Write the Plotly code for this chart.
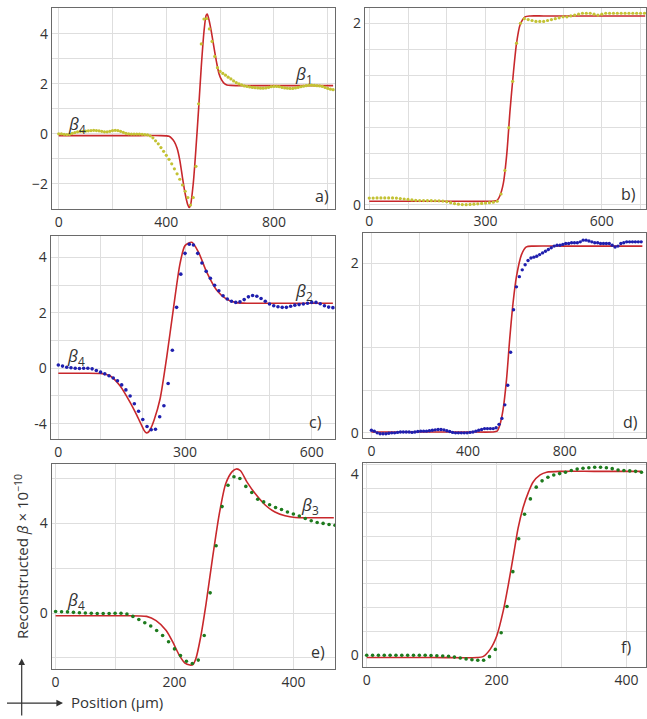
import plotly.graph_objects as go

W, H = 647, 719

# ---------------- data ----------------
# Panel a (yellow dots + red fit)
a_dot_x0, a_dot_step = 0, 10
a_dot_y = [0.00, 0.00, -0.02, -0.03, -0.02, 0.02, 0.05, 0.08, 0.10, 0.10,
           0.11, 0.12, 0.13, 0.14, 0.13, 0.12, 0.10, 0.08, 0.08, 0.10,
           0.13, 0.14, 0.13, 0.10, 0.06, 0.02, 0.00, -0.01, -0.01, -0.01,
           -0.01, -0.02, -0.03, -0.04, -0.08, -0.16, -0.28, -0.40, -0.55, -0.70,
           -0.86, -1.02, -1.20, -1.40, -1.60, -1.82, -2.05, -2.30, -2.55, -2.85,
           -2.55, -1.30, 1.20, 3.60, 4.60, 4.62, 4.20, 3.70, 3.10, 2.65,
           2.50, 2.42, 2.35, 2.27, 2.20, 2.12, 2.05, 2.00, 1.96, 1.92,
           1.90, 1.88, 1.86, 1.85, 1.84, 1.83, 1.83, 1.84, 1.86, 1.89,
           1.90, 1.90, 1.89, 1.86, 1.84, 1.83, 1.82, 1.82, 1.84, 1.86,
           1.89, 1.91, 1.93, 1.95, 1.95, 1.94, 1.93, 1.92, 1.90, 1.86,
           1.82, 1.79, 1.77]
a_fit_x = [0, 100, 200, 300, 380, 400, 410, 420, 430, 440, 450, 460, 470, 480, 485, 490,
           500, 510, 520, 530, 540, 548, 552, 560, 568, 578, 587, 596, 606, 615, 625, 640,
           700, 800, 900, 1020]
a_fit_y = [-0.07, -0.07, -0.07, -0.07, -0.07, -0.08, -0.10, -0.18, -0.32, -0.58, -1.05, -1.75,
           -2.40, -2.85, -2.95, -2.85, -2.00, -0.60, 1.00, 2.70, 4.10, 4.75, 4.80, 4.50, 4.05,
           3.40, 2.85, 2.40, 2.15, 2.02, 1.96, 1.94, 1.93, 1.93, 1.93, 1.93]

# Panel b
b_dot_x0, b_dot_step = 0, 10
b_dot_y = [0.075, 0.075, 0.077, 0.077, 0.077, 0.077, 0.077, 0.075, 0.070, 0.065,
           0.060, 0.055, 0.050, 0.048, 0.048, 0.047, 0.047, 0.046, 0.045, 0.042,
           0.035, 0.025, 0.015, 0.008, 0.004, 0.003, 0.005, 0.008, 0.012, 0.016,
           0.020, 0.025, 0.030, 0.040, 0.12, 0.38, 0.85, 1.36, 1.78, 2.00,
           2.05, 2.04, 2.03, 2.02, 2.02, 2.02, 2.03, 2.04, 2.05, 2.06,
           2.07, 2.07, 2.08, 2.09, 2.10, 2.11, 2.11, 2.11, 2.10, 2.09,
           2.10, 2.11, 2.11, 2.11, 2.11, 2.11, 2.11, 2.11, 2.11, 2.11,
           2.11, 2.11]
b_fit_x = [0, 100, 200, 300, 330, 337, 346, 355, 363, 372, 380, 389, 402, 415, 450, 550, 650, 712]
b_fit_y = [0.04, 0.04, 0.04, 0.04, 0.05, 0.10, 0.24, 0.57, 1.03, 1.46, 1.78, 1.98, 2.07, 2.08,
           2.08, 2.08, 2.08, 2.08]

# Panel c
c_dot_x0, c_dot_step = 0, 10
c_dot_y = [0.12, 0.08, 0.04, 0.02, 0.00, -0.01, 0.00, 0.00, -0.02, -0.08,
           -0.14, -0.20, -0.27, -0.35, -0.45, -0.60, -0.78, -1.00, -1.28, -1.55,
           -1.85, -2.10, -2.22, -2.20, -1.75, -1.35, -0.55, 0.65, 2.20, 3.40,
           4.15, 4.48, 4.45, 4.15, 3.80, 3.50, 3.25, 3.00, 2.80, 2.62,
           2.50, 2.42, 2.38, 2.40, 2.48, 2.58, 2.63, 2.60, 2.52, 2.42,
           2.32, 2.26, 2.22, 2.20, 2.20, 2.24, 2.28, 2.30, 2.32, 2.35,
           2.38, 2.38, 2.33, 2.26, 2.21, 2.19]
c_fit_x = [0, 50, 100, 122, 146, 170, 186, 196, 203, 208, 213, 219, 227, 241, 257, 272, 288,
           300, 316, 332, 351, 375, 399, 422, 450, 500, 600, 650]
c_fit_y = [-0.18, -0.18, -0.19, -0.27, -0.63, -1.23, -1.70, -2.02, -2.24, -2.33, -2.31, -2.17,
           -1.86, -1.10, 0.44, 2.10, 3.77, 4.43, 4.55, 4.19, 3.48, 2.82, 2.49, 2.37, 2.35, 2.35,
           2.35, 2.35]
c_tick_vals = [-2, 0, 2, 4]
c_tick_text = ["-4", "0", "2", "4"]

# Panel d
d_dot_x0, d_dot_step = 0, 12
d_dot_y = [0.03, 0.02, 0.00, -0.01, -0.01, -0.01, -0.005, 0.00, 0.00, 0.005,
           0.01, 0.01, 0.01, 0.01, 0.005, 0.01, 0.015, 0.02, 0.02, 0.02,
           0.025, 0.03, 0.035, 0.04, 0.04, 0.035, 0.025, 0.015, 0.005, 0.00,
           0.00, 0.00, 0.00, 0.00, 0.005, 0.01, 0.02, 0.03, 0.04, 0.05,
           0.05, 0.05, 0.05, 0.06, 0.10, 0.17, 0.33, 0.56, 0.95, 1.45,
           1.72, 1.84, 1.92, 1.98, 2.03, 2.06, 2.07, 2.08, 2.10, 2.12,
           2.14, 2.16, 2.18, 2.20, 2.21, 2.21, 2.22, 2.23, 2.23, 2.24,
           2.24, 2.24, 2.25, 2.27, 2.27, 2.26, 2.25, 2.24, 2.24, 2.23,
           2.23, 2.23, 2.23, 2.21, 2.19, 2.20, 2.23, 2.24, 2.25, 2.25,
           2.25, 2.25, 2.25, 2.25]
d_fit_x = [0, 200, 400, 500, 520, 531, 545, 559, 572, 586, 600, 621, 641, 669, 800, 1000, 1121]
d_fit_y = [0.01, 0.01, 0.01, 0.01, 0.02, 0.09, 0.28, 0.63, 1.10, 1.53, 1.84, 2.10, 2.19, 2.20,
           2.20, 2.20, 2.20]

# Panel e
e_dot_x0, e_dot_step = 0, 10
e_dot_y = [0.07, 0.06, 0.05, 0.03, 0.01, 0.00, -0.01, -0.02, -0.02, -0.02,
           -0.01, -0.01, -0.04, -0.15, -0.29, -0.43, -0.58, -0.78, -1.00, -1.28,
           -1.60, -1.90, -2.15, -2.25, -2.10, -1.00, 0.90, 3.00, 4.75, 5.70,
           6.08, 6.00, 5.65, 5.38, 5.08, 4.96, 4.83, 4.71, 4.62, 4.51,
           4.42, 4.33, 4.22, 4.12, 4.04, 4.00, 3.95, 3.92]
e_fit_x = [0, 100, 153, 169, 186, 197, 208, 217, 226, 231, 236, 244, 253, 264, 275, 286, 297,
           304, 311, 322, 336, 353, 369, 386, 403, 430, 468]
e_fit_y = [-0.12, -0.12, -0.15, -0.34, -0.78, -1.29, -1.88, -2.22, -2.32, -2.30, -2.03, -1.07,
           0.40, 2.46, 4.37, 5.76, 6.31, 6.43, 6.35, 5.84, 5.32, 4.81, 4.51, 4.34, 4.26, 4.25,
           4.25]

# Panel f
f_dot_x0, f_dot_step = 0, 9
f_dot_y = [0.00, 0.00, 0.00, 0.00, 0.00, 0.00, 0.00, 0.00, 0.00, 0.00,
           0.00, -0.005, -0.01, -0.015, -0.02, -0.04, -0.06, -0.08, -0.10, -0.11,
           -0.11, -0.03, 0.13, 0.50, 1.08, 1.85, 2.58, 3.12, 3.46, 3.72,
           3.86, 3.94, 3.99, 4.02, 4.05, 4.09, 4.12, 4.14, 4.15, 4.16,
           4.16, 4.15, 4.13, 4.10, 4.09, 4.08, 4.07, 4.05]
f_fit_x = [0, 100, 170, 179, 190, 200, 210, 218, 226, 233, 241, 249, 256, 267, 277, 300, 350, 423]
f_fit_y = [-0.05, -0.05, -0.05, -0.03, 0.13, 0.42, 0.97, 1.56, 2.22, 2.81, 3.28, 3.61, 3.83,
           3.99, 4.05, 4.07, 4.07, 4.07]

panel_letters = ["a)", "b)", "c)", "d)", "e)", "f)"]
y_title = "Reconstructed <i>β</i> × 10<sup>−10</sup>"
x_title = "Position (μm)"

# ---------------- styling / layout ----------------
RED = "#c8282c"
YEL = "#c3c234"
BLU = "#1f1fae"
GRN = "#1d7a1d"
GRID = "#dedede"
FRAME = "#6a6a6a"
TXT = "#333333"
FONT = "Open Sans"

# panel boxes in pixels: (left, top, right, bottom)
boxes = [(52, 8.3, 335, 210.7), (365, 8.3, 646, 210),
         (50.7, 237.3, 335, 441.7), (362.7, 235, 646, 441),
         (51.7, 467.7, 335, 673.3), (362.7, 466, 646, 671.7)]

xr = [[-25, 1027], [-11, 714], [-18, 655], [-36, 1136], [-6.6, 470], [-6.2, 430]]
yr = [[-3.02, 5.03], [-0.04, 2.165], [-2.54, 4.79], [-0.06, 2.35], [-2.48, 6.63], [-0.26, 4.26]]
x_major = [400, 300, 300, 400, 200, 200]
x_minor = [200, 100, 100, 200, 100, 100]
y_major = [2, 2, 2, 2, 4, 4]
y_minor = [1, 2 / 7, 1, 0.5, 2, 0.527]

dots = [(a_dot_x0, a_dot_step, a_dot_y, YEL, 3.2),
        (b_dot_x0, b_dot_step, b_dot_y, YEL, 3.2),
        (c_dot_x0, c_dot_step, c_dot_y, BLU, 3.6),
        (d_dot_x0, d_dot_step, d_dot_y, BLU, 3.4),
        (e_dot_x0, e_dot_step, e_dot_y, GRN, 3.6),
        (f_dot_x0, f_dot_step, f_dot_y, GRN, 3.6)]
fits = [(a_fit_x, a_fit_y), (b_fit_x, b_fit_y), (c_fit_x, c_fit_y),
        (d_fit_x, d_fit_y), (e_fit_x, e_fit_y), (f_fit_x, f_fit_y)]

fig = go.Figure()
layout = dict(width=W, height=H, margin=dict(l=0, r=0, t=0, b=0), autosize=False,
              paper_bgcolor="white", plot_bgcolor="white", showlegend=False,
              font=dict(family=FONT, color=TXT, size=13))

for i in range(6):
    k = "" if i == 0 else str(i + 1)
    xa, ya = "x" + k, "y" + k
    L, T, R, B = boxes[i]
    fx, fy = fits[i]
    fig.add_trace(go.Scatter(x=fx, y=fy, mode="lines", xaxis=xa, yaxis=ya,
                             line=dict(color=RED, width=1.6, shape="spline", smoothing=0.7),
                             hoverinfo="skip"))
    x0, st, yy, col, ms = dots[i]
    xs = [x0 + st * j for j in range(len(yy))]
    fig.add_trace(go.Scatter(x=xs, y=yy, mode="markers", xaxis=xa, yaxis=ya,
                             marker=dict(color=col, size=ms, line=dict(width=0)),
                             hoverinfo="skip"))
    xax = dict(domain=[L / W, R / W], anchor=ya, range=xr[i], tick0=0, dtick=x_major[i],
               showgrid=True, gridcolor=GRID, gridwidth=1, zeroline=False,
               showline=True, linecolor=FRAME, linewidth=1.3, mirror=True, ticks="",
               tickfont=dict(size=14, color=TXT, family=FONT),
               minor=dict(tick0=0, dtick=x_minor[i], showgrid=True, gridcolor=GRID, gridwidth=1,
                          ticks=""))
    yax = dict(domain=[1 - B / H, 1 - T / H], anchor=xa, range=yr[i], tick0=0, dtick=y_major[i],
               showgrid=(i != 5), gridcolor=GRID, gridwidth=1, zeroline=False,
               showline=True, linecolor=FRAME, linewidth=1.3, mirror=True, ticks="",
               tickfont=dict(size=14, color=TXT, family=FONT),
               minor=dict(tick0=0, dtick=y_minor[i], showgrid=True, gridcolor=GRID, gridwidth=1,
                          ticks=""))
    if i == 2:
        yax.update(tickmode="array", tickvals=c_tick_vals, ticktext=c_tick_text)
        yax.pop("dtick")
    layout["xaxis" + k] = xax
    layout["yaxis" + k] = yax

fig.update_layout(**layout)


def P(x, y):
    return x / W, 1 - y / H


def text_ann(t, px, py, size, **kw):
    x, y = P(px, py)
    d = dict(x=x, y=y, xref="paper", yref="paper", text=t, showarrow=False,
             xanchor="center", yanchor="middle",
             font=dict(size=size, color=TXT, family=FONT))
    d.update(kw)
    return d


ann = []
letter_pos = [(322, 197), (628, 195), (315, 425), (630, 425), (318, 657), (626, 652)]
for t, (px, py) in zip(panel_letters, letter_pos):
    ann.append(text_ann(t, px, py, 16))

betas = [("<i>β</i><sub>1</sub>", 304, 75), ("<i>β</i><sub>4</sub>", 77, 125),
         ("<i>β</i><sub>2</sub>", 304, 294), ("<i>β</i><sub>4</sub>", 76, 359),
         ("<i>β</i><sub>3</sub>", 310, 509), ("<i>β</i><sub>4</sub>", 76, 605)]
for t, px, py in betas:
    ann.append(text_ann(t, px, py, 17))

ann.append(text_ann(y_title, 21, 561, 15, textangle=-90))
ann.append(text_ann(x_title, 117, 707, 15))

# axis-direction arrows
x, y = P(21.7, 663)
ann.append(dict(x=x, y=y, xref="paper", yref="paper", text=" ", showarrow=True,
                ax=0, ay=60, arrowhead=2, arrowsize=1.1, arrowwidth=1.2, arrowcolor="#333",
                standoff=0, startstandoff=0, font=dict(size=2)))
x, y = P(63, 708)
ann.append(dict(x=x, y=y, xref="paper", yref="paper", text=" ", showarrow=True,
                ax=-58, ay=0, arrowhead=2, arrowsize=1.1, arrowwidth=1.2, arrowcolor="#333",
                standoff=0, startstandoff=0, font=dict(size=2)))

fig.update_layout(annotations=ann)
fig.write_html("out.html", config={"displayModeBar": False},
               post_script="document.body.style.margin='0';")
